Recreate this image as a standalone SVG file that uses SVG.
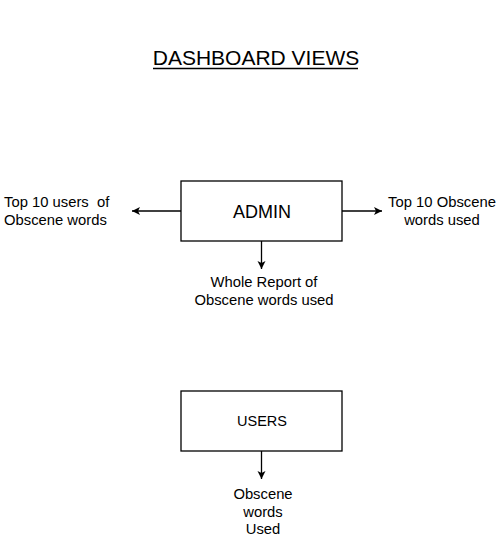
<svg xmlns="http://www.w3.org/2000/svg" width="503" height="537" viewBox="0 0 503 537">
<style>
text{font-family:"Liberation Sans",Arial,sans-serif;fill:#000}
.box{fill:#fff;stroke:#000;stroke-width:1.3}
.lbl{font-size:14.8px}
.c{text-anchor:middle}
.ln{stroke:#000;stroke-width:1.3;fill:none;marker-end:url(#ah)}
</style>
<defs>
<marker id="ah" markerWidth="10" markerHeight="10" refX="8" refY="5" orient="auto" markerUnits="userSpaceOnUse">
<path d="M0,1 L8,5 L0,9 L2,5 Z" fill="#000"/>
</marker>
</defs>
<rect width="503" height="537" fill="#fff"/>
<g id="title">
<text x="256" y="65" font-size="21" class="c">DASHBOARD VIEWS</text>
<line x1="153" y1="68.5" x2="358" y2="68.5" stroke="#000" stroke-width="1.3"/>
</g>
<g id="admin">
<rect class="box" x="181" y="181" width="161" height="60"/>
<text x="262" y="218" font-size="18" class="c">ADMIN</text>
</g>
<g id="users">
<rect class="box" x="181" y="391" width="161" height="60"/>
<text x="262" y="426" font-size="14.5" class="c">USERS</text>
</g>
<g id="top-users">
<text class="lbl" x="4" y="207" style="white-space:pre">Top 10 users  of</text>
<text class="lbl" x="4" y="225">Obscene words</text>
</g>
<g id="top-words">
<text class="lbl c" x="442" y="207">Top 10 Obscene</text>
<text class="lbl c" x="442" y="225">words used</text>
</g>
<g id="whole-report">
<text class="lbl c" x="264" y="287">Whole Report of</text>
<text class="lbl c" x="264" y="305">Obscene words used</text>
</g>
<g id="user-words">
<text class="lbl c" x="263" y="499">Obscene</text>
<text class="lbl c" x="263" y="517">words</text>
<text class="lbl c" x="263" y="534">Used</text>
</g>
<g id="connectors">
<line class="ln" x1="181" y1="211" x2="132" y2="211"/>
<line class="ln" x1="342" y1="211" x2="382" y2="211"/>
<line class="ln" x1="261.5" y1="241" x2="261.5" y2="269"/>
<line class="ln" x1="261.5" y1="451" x2="261.5" y2="479"/>
</g>
</svg>
